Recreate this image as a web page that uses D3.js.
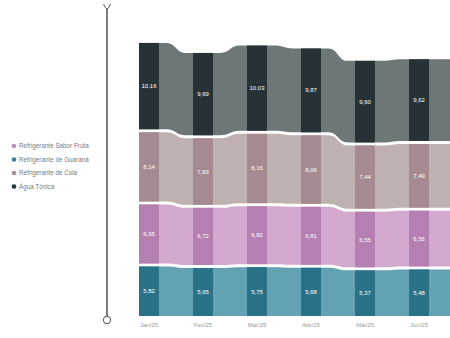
<!DOCTYPE html>
<html><head><meta charset="utf-8">
<script src="https://cdn.jsdelivr.net/npm/d3@7"></script>
<style>body{margin:0;background:#fff}svg{display:block;font-family:"Liberation Sans",Arial,sans-serif}</style>
</head><body><svg id="c" width="450" height="338"></svg>
<script>
const months = ["Jan/25","Fev/25","Mar/25","Abr/25","Mai/25","Jun/25"];
const monthLabels = ["Jan/25","Fev/25","Mar/25","Abr/25","Mai/25","Jun/25"];
const seriesNames = ["Refrigerante de Guaraná","Refrigerante Sabor Fruta","Refrigerante de Cola","Água Tônica"];
const guarana = [5.82,5.65,5.75,5.68,5.37,5.48];
const fruta   = [6.95,6.72,6.82,6.81,6.55,6.56];
const cola    = [8.14,7.83,8.16,8.06,7.44,7.49];
const tonica  = [10.16,9.69,10.03,9.87,9.60,9.62];
const legendOrder = ["Refrigerante Sabor Fruta","Refrigerante de Guaraná","Refrigerante de Cola","Água Tônica"];
const barColors  = {"Refrigerante de Guaraná":"#2a7288","Refrigerante Sabor Fruta":"#b57fb1","Refrigerante de Cola":"#a58b91","Água Tônica":"#263236"};
const areaColors = {"Refrigerante de Guaraná":"#63a2b3","Refrigerante Sabor Fruta":"#d3a9cf","Refrigerante de Cola":"#c0b1b1","Água Tônica":"#6e7778"};
const legendColors = {"Refrigerante de Guaraná":"#3a8299","Refrigerante Sabor Fruta":"#c48fc0","Refrigerante de Cola":"#a39696","Água Tônica":"#263236"};

const svg = d3.select("#c");
const W = 450;
const x = d3.scaleBand().domain(months).range([139, 429]).paddingInner(0.63).paddingOuter(0);
const y0 = 316, gap = 3;
const y = d3.scaleLinear().domain([0, 32]).range([y0, y0 - 272]);
const vals = [guarana, fruta, cola, tonica];

const layers = vals.map((arr, li) => arr.map((v, i) => {
  let base = 0; for (let k = 0; k < li; k++) base += vals[k][i];
  const bottom = y(base) - li * gap;
  const top = y(base + v) - li * gap;
  return {v, bottom, top, i};
}));

const bw = x.bandwidth();
layers.forEach((L, li) => {
  const name = seriesNames[li];
  const pts = [];
  L.forEach((d, i) => {
    const x0 = x(months[i]);
    const sh = (x.step() - bw) * 0.22;
    pts.push({x: i === 0 ? x0 : x0 - sh, t: d.top, b: d.bottom});
    pts.push({x: i === L.length - 1 ? W : x0 + bw + sh, t: d.top, b: d.bottom});
  });
  const area = d3.area().x(p => p.x).y0(p => p.b).y1(p => p.t).curve(d3.curveBumpX);
  svg.append("path").attr("d", area(pts)).attr("fill", areaColors[name]);
  svg.selectAll(null).data(L).enter().append("rect")
    .attr("x", d => x(months[d.i])).attr("width", bw)
    .attr("y", d => d.top).attr("height", d => d.bottom - d.top)
    .attr("fill", barColors[name]);
  svg.selectAll(null).data(L).enter().append("text")
    .attr("x", d => x(months[d.i]) + bw / 2).attr("y", d => (d.top + d.bottom) / 2 + 2)
    .attr("text-anchor", "middle").attr("font-size", 6).attr("fill", "#fff")
    .text(d => d.v.toFixed(2).replace(".", ","));
});

const xAxis = d3.axisBottom(x).tickSize(0).tickFormat((d, i) => monthLabels[i]);
const gx = svg.append("g").attr("transform", `translate(0,${y0 + 4})`).call(xAxis);
gx.select(".domain").remove();
gx.selectAll("text").attr("font-size", 6).attr("fill", "#999").attr("font-family", "Liberation Sans, Arial, sans-serif");

svg.append("line").attr("x1", 107).attr("x2", 107).attr("y1", 8).attr("y2", 316).attr("stroke", "#444").attr("stroke-width", 1.4);
svg.append("path").attr("d", "M103.5,4 Q105,8 107,9 Q109,8 110.5,4").attr("fill", "none").attr("stroke", "#555").attr("stroke-width", 1);
svg.append("circle").attr("cx", 107).attr("cy", 320).attr("r", 3.6).attr("fill", "#fff").attr("stroke", "#666").attr("stroke-width", 1.1);

const lg = svg.append("g");
legendOrder.forEach((n, i) => {
  const yy = 146 + i * 13.5;
  lg.append("circle").attr("cx", 14).attr("cy", yy).attr("r", 2.3).attr("fill", legendColors[n]);
  lg.append("text").attr("x", 19).attr("y", yy + 2.2).attr("font-size", 6.3).attr("fill", "#7a7a7a").text(n);
});
</script></body></html>
